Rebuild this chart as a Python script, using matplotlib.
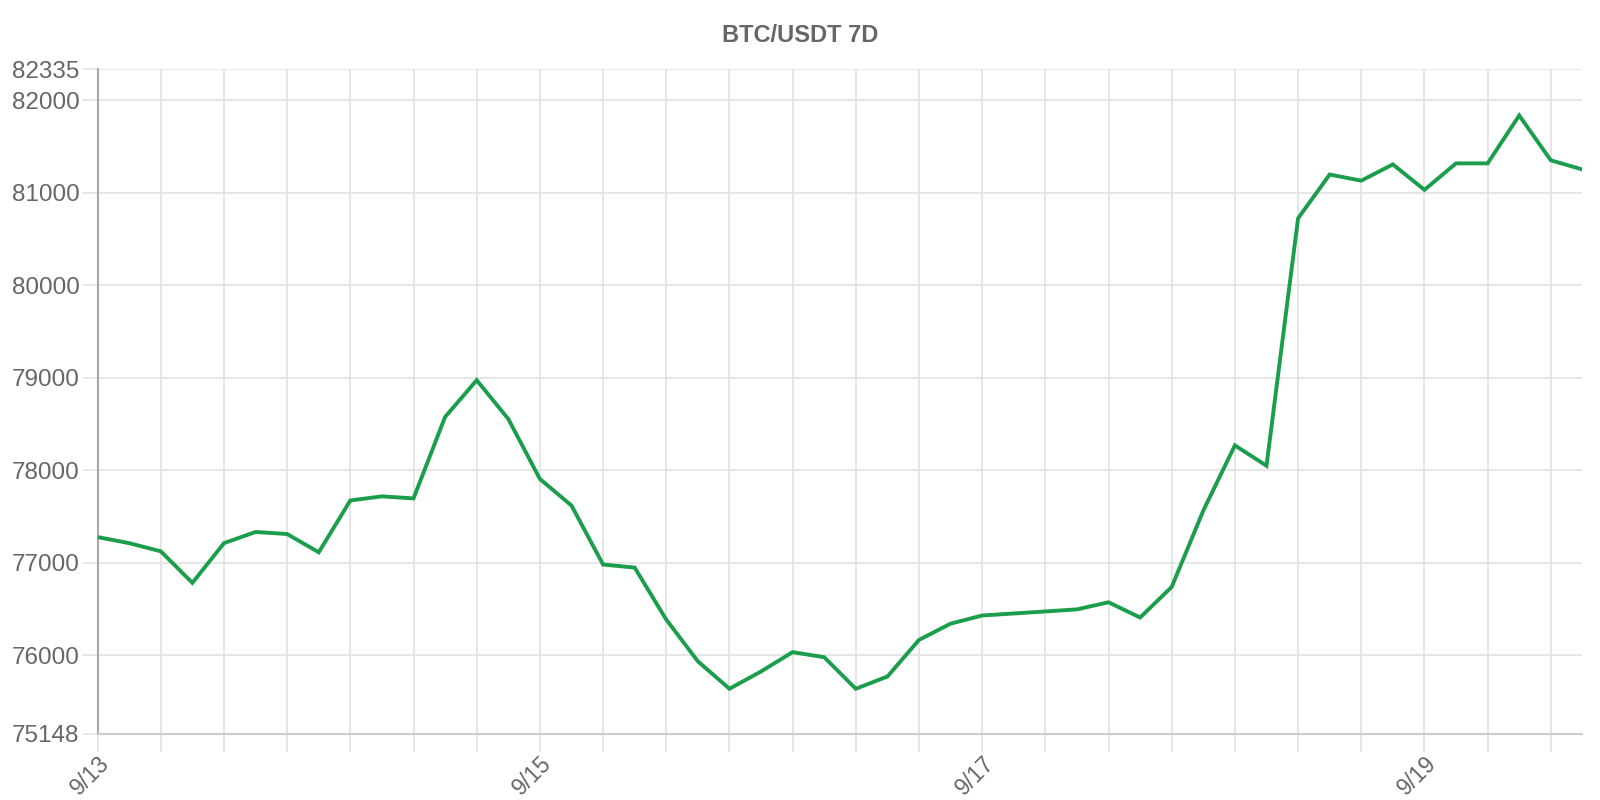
import numpy as np
import matplotlib.pyplot as plt
from matplotlib.ticker import FixedLocator, MultipleLocator

plt.rcParams['font.family'] = ['Liberation Sans', 'DejaVu Sans']

# BTC/USDT close, one point every ~3.5h over 7 days
prices = [77277, 77211, 77123, 76782, 77211, 77332, 77310, 77112,
          77673, 77717, 77695, 78576, 78973, 78554, 77905, 77618,
          76980, 76947, 76385, 75934, 75637, 75824, 76033, 75978,
          75637, 75769, 76165, 76341, 76429, 76451, 76473, 76495,
          76572, 76407, 76738, 77563, 78268, 78048, 80723, 81196,
          81130, 81306, 81031, 81317, 81317, 81835, 81350, 81251]
date_labels = ['9/13', '9/15', '9/17', '9/19']
label_idx = [0, 14, 28, 42]
y_min, y_max = 75148, 82335
y_ticks = [75148, 76000, 77000, 78000, 79000, 80000, 81000, 82000, 82335]

fig = plt.figure(figsize=(16, 8), dpi=100)
ax = fig.add_axes([0.061, 0.0825, 0.928, 0.831])

x = np.arange(len(prices))
ax.plot(x, prices, color='#1b9e4b', lw=2.8, solid_joinstyle='miter', zorder=3)

ax.set_xlim(0, len(prices) - 1)
ax.set_ylim(y_min, y_max)

# grid every 2 points, labels every 14
ax.xaxis.set_major_locator(FixedLocator(label_idx))
ax.set_xticklabels(date_labels, rotation=45, ha='right', va='top',
                   rotation_mode='anchor')
ax.xaxis.set_minor_locator(MultipleLocator(2))
ax.set_yticks(y_ticks)
ax.set_yticklabels([str(v) for v in y_ticks])

ax.grid(True, which='both', axis='x', color='#e1e1e1', lw=1.2)
ax.grid(True, which='major', axis='y', color='#e1e1e1', lw=1.2)
ax.set_axisbelow(True)

ax.tick_params(axis='x', which='both', length=13, width=1.2, color='#e1e1e1',
               labelsize=16.5, labelcolor='#666666', pad=0)
ax.tick_params(axis='y', length=11, width=1.2, color='#e1e1e1',
               labelsize=17.5, labelcolor='#666666', pad=2)

for s in ['top', 'right']:
    ax.spines[s].set_visible(False)
ax.spines['left'].set_color('#a8a8a8')
ax.spines['left'].set_linewidth(1.5)
ax.spines['bottom'].set_color('#cccccc')
ax.spines['bottom'].set_linewidth(1.5)

fig.text(0.5, 0.956, 'BTC/USDT 7D', ha='center', va='center',
         fontsize=17, fontweight='bold', color='#666666')

fig.savefig('out.png', dpi=100)
